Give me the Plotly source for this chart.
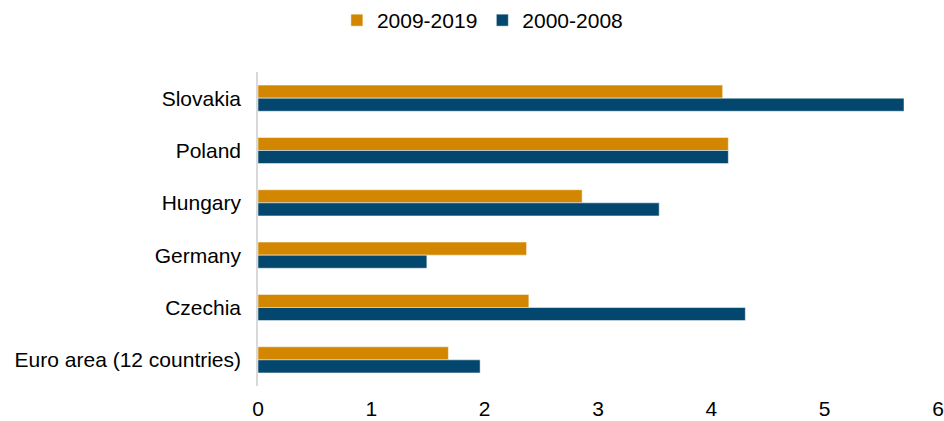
import plotly.graph_objects as go

categories = ["Slovakia", "Poland", "Hungary", "Germany", "Czechia", "Euro area (12 countries)"]
series_2009_2019 = [4.10, 4.15, 2.86, 2.37, 2.39, 1.68]
series_2000_2008 = [5.70, 4.15, 3.54, 1.49, 4.30, 1.96]
x_ticks = [0, 1, 2, 3, 4, 5, 6]

ORANGE = "#D38700"
BLUE = "#03476F"
FONT = "Liberation Sans, Arial, sans-serif"

fig = go.Figure()
fig.add_trace(go.Bar(
    y=categories, x=series_2009_2019, name="2009-2019", orientation="h",
    marker=dict(color=ORANGE, line=dict(color="white", width=0.5)),
))
fig.add_trace(go.Bar(
    y=categories, x=series_2000_2008, name="2000-2008", orientation="h",
    marker=dict(color=BLUE, line=dict(color="white", width=0.5)),
))

fig.update_layout(
    width=944, height=421,
    margin=dict(l=258, r=6, t=72, b=35),
    paper_bgcolor="white", plot_bgcolor="white",
    font=dict(family=FONT, size=21, color="#000000"),
    barmode="group", bargap=0.5, bargroupgap=0,
    showlegend=True,
    legend=dict(orientation="h", x=0.511, xanchor="center", xref="container",
                y=1.0, yanchor="top", yref="container",
                font=dict(size=21), traceorder="normal",
                itemwidth=30, bgcolor="rgba(0,0,0,0)"),
    xaxis=dict(range=[0, 6], tickvals=x_ticks, ticktext=[str(t) for t in x_ticks],
               showgrid=False, zeroline=False, showline=False, ticks="",
               tickfont=dict(size=21), ticklabelstandoff=8, automargin=False),
    yaxis=dict(autorange="reversed", showgrid=False, showline=True,
               linecolor="#D9D9D9", linewidth=1.5, ticks="",
               tickfont=dict(size=21), ticklabelstandoff=11, automargin=False),
)

fig.write_html("out.html", config={"displayModeBar": False},
               post_script="document.body.style.margin='0px';")
